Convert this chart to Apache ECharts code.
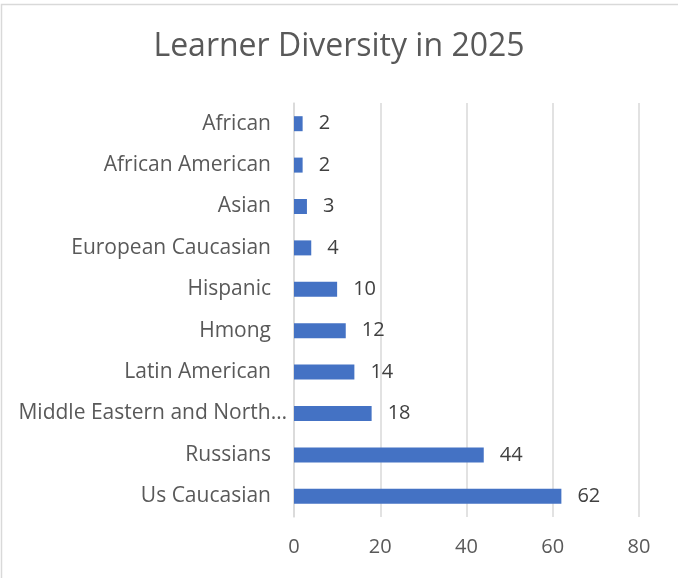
<!DOCTYPE html>
<html>
<head>
<meta charset="utf-8">
<script src="https://cdn.jsdelivr.net/npm/echarts@6/dist/echarts.min.js"></script>
<style>html,body{margin:0;padding:0;background:#fff}#c{width:678px;height:578px}</style>
</head>
<body>
<div id="c"></div>
<script>
const titleText = 'Learner Diversity in 2025';
const categories = ['African', 'African American', 'Asian', 'European Caucasian', 'Hispanic', 'Hmong', 'Latin American', 'Middle Eastern and North African', 'Russians', 'Us Caucasian'];
const values = [2, 2, 3, 4, 10, 12, 14, 18, 44, 62];
const xTicks = { min: 0, max: 80, interval: 20 };

const font = '"Open Sans", "Noto Sans", sans-serif';
const chart = echarts.init(document.getElementById('c'), null, { renderer: 'canvas' });
chart.setOption({
  animation: false,
  backgroundColor: '#ffffff',
  title: {
    text: titleText,
    left: 'center',
    top: 26,
    textStyle: { fontFamily: font, fontSize: 32, fontWeight: 'normal', color: '#595959' }
  },
  graphic: [{
    type: 'rect',
    shape: { x: 1.5, y: 4.5, width: 720, height: 620 },
    style: { fill: 'none', stroke: '#d9d9d9', lineWidth: 1.5 },
    silent: true
  }],
  grid: { left: 294, right: 39, top: 103, bottom: 61, containLabel: false },
  xAxis: {
    type: 'value',
    min: xTicks.min, max: xTicks.max, interval: xTicks.interval,
    axisLine: { show: false },
    axisTick: { show: false },
    splitLine: { show: true, lineStyle: { color: '#d9d9d9', width: 1.5 } },
    axisLabel: { color: '#595959', fontFamily: font, fontSize: 20, margin: 20 }
  },
  yAxis: {
    type: 'category',
    data: categories,
    inverse: true,
    axisLine: { show: true, lineStyle: { color: '#d9d9d9', width: 1.5 } },
    axisTick: { show: false },
    axisLabel: {
      color: '#595959', fontFamily: font, fontSize: 21, margin: 7,
      width: 272, overflow: 'truncate', ellipsis: '…',
      formatter: function (v) { return v.length > 25 ? v : '{n|' + v + '}'; },
      rich: { n: { color: '#595959', fontFamily: font, fontSize: 21, padding: [0, 16, 0, 0] } }
    }
  },
  series: [{
    type: 'bar',
    data: values,
    barWidth: 15,
    itemStyle: { color: '#4472C4' },
    label: {
      show: true, position: 'right', distance: 16,
      color: '#404040', fontFamily: font, fontSize: 20
    }
  }]
});
</script>
</body>
</html>
